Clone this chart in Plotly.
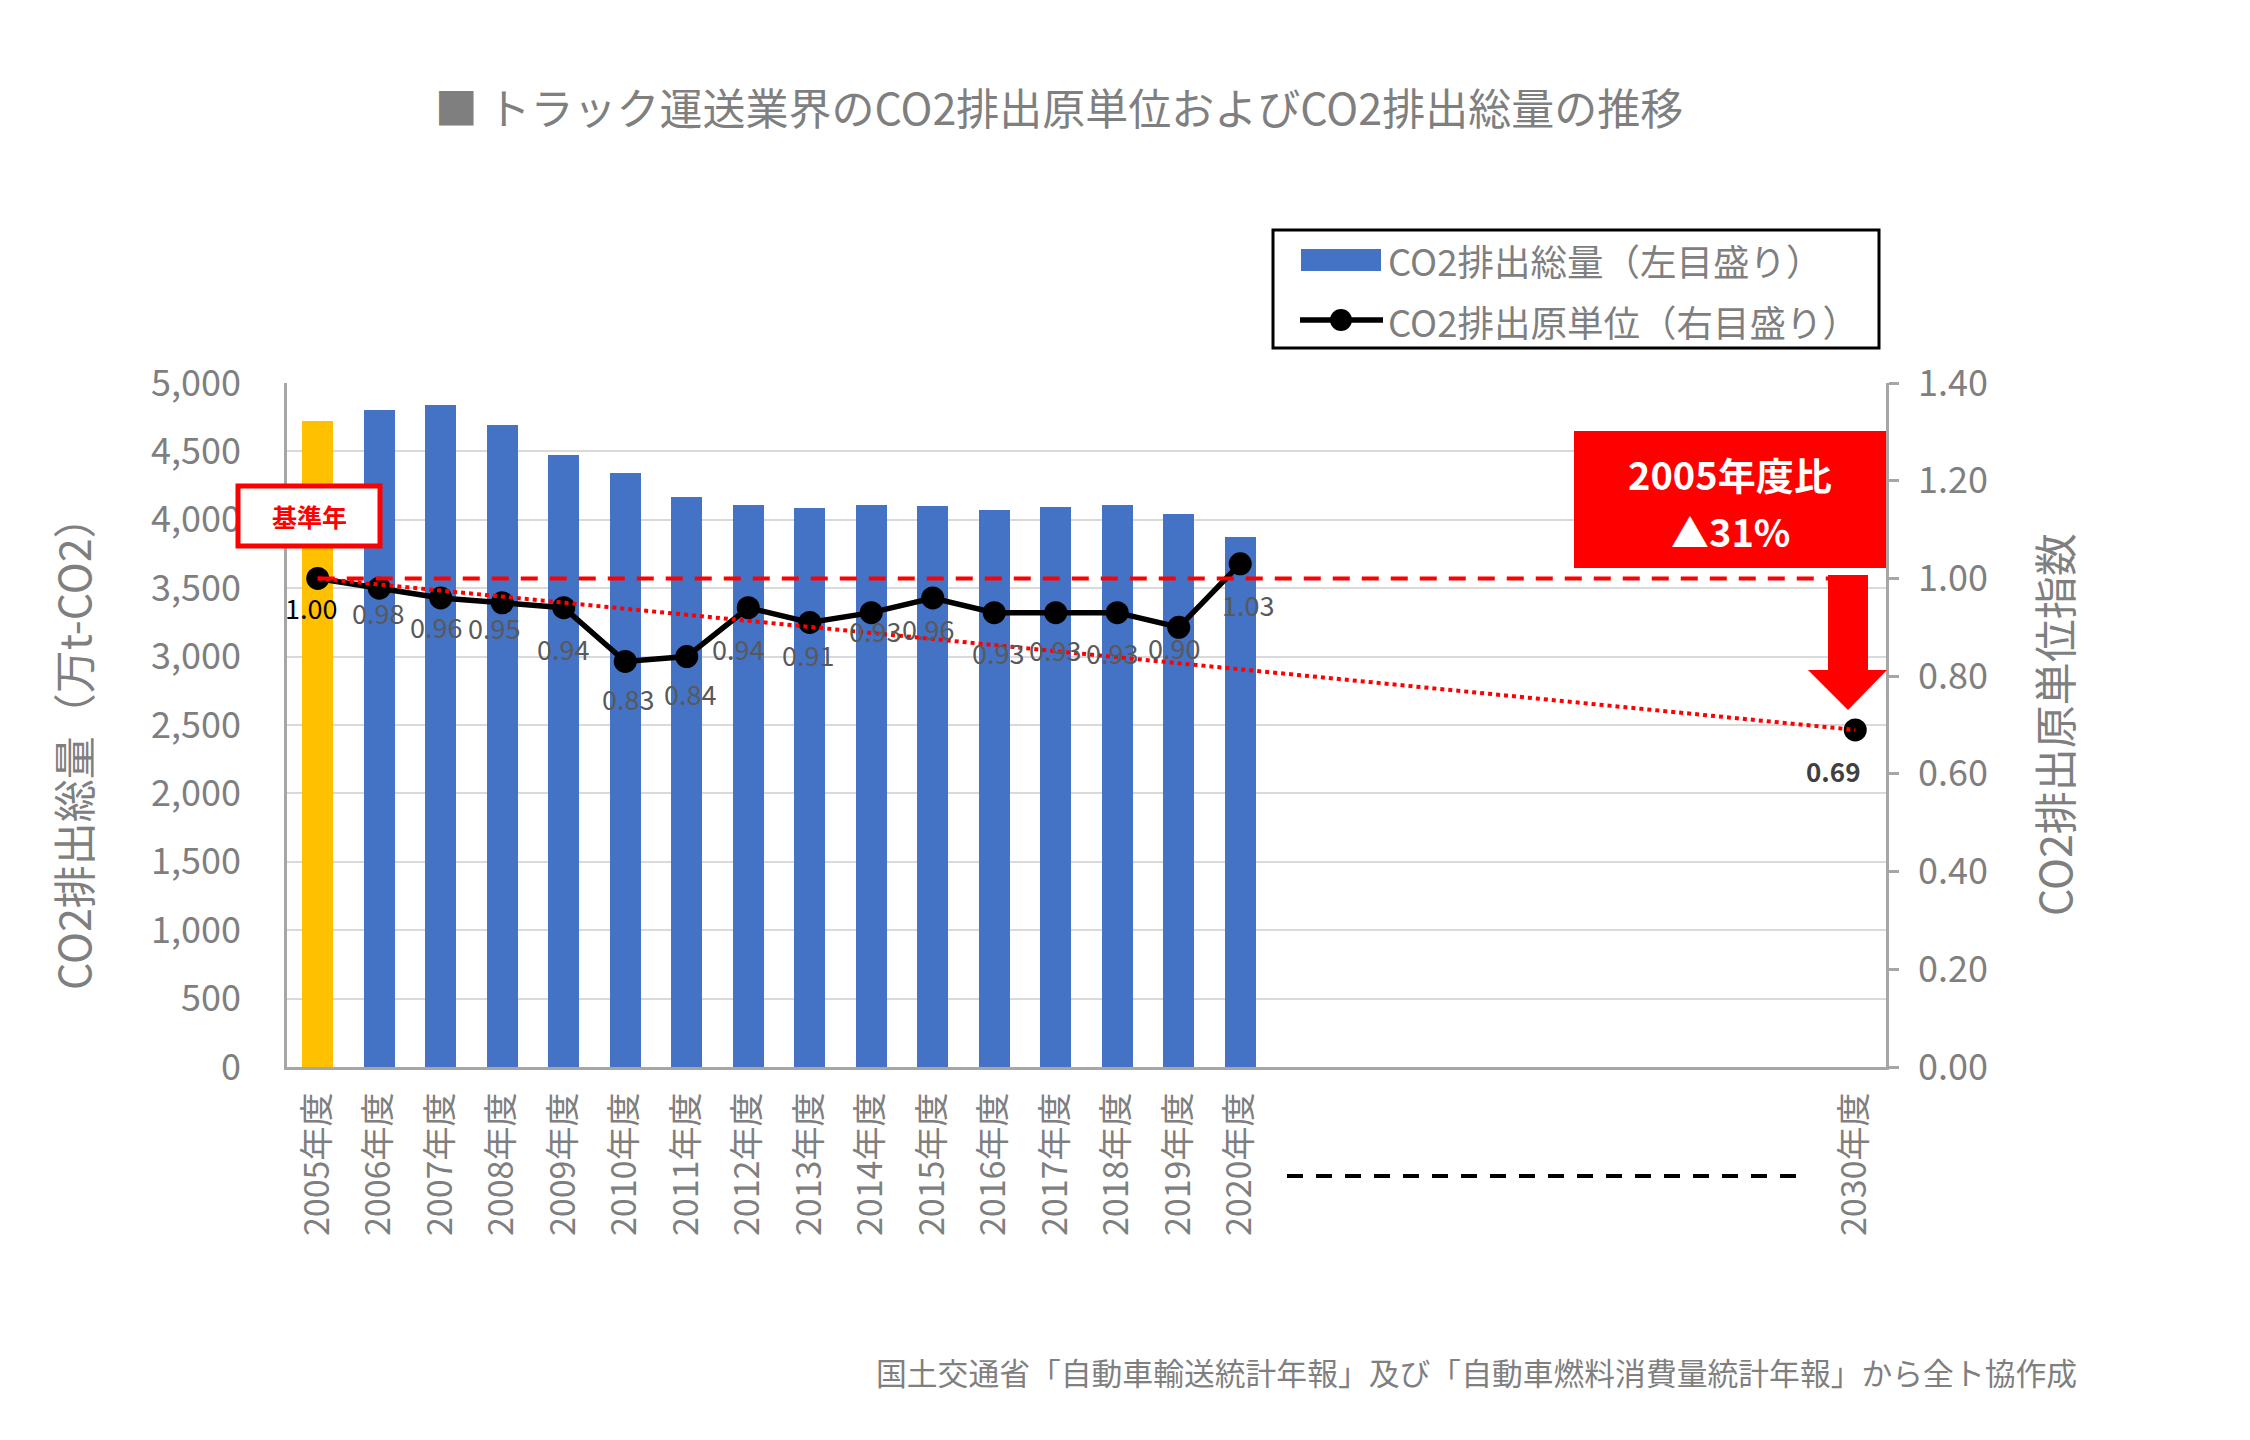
import plotly.graph_objects as go

# ---------------- data ----------------
years = [2005, 2006, 2007, 2008, 2009, 2010, 2011, 2012, 2013, 2014, 2015, 2016, 2017, 2018, 2019, 2020]
tick_years = [2005, 2006, 2007, 2008, 2009, 2010, 2011, 2012, 2013, 2014, 2015, 2016, 2017, 2018, 2019, 2020, 2030]
tick_labels = ["2005年度", "2006年度", "2007年度", "2008年度", "2009年度", "2010年度", "2011年度", "2012年度",
               "2013年度", "2014年度", "2015年度", "2016年度", "2017年度", "2018年度", "2019年度", "2020年度", "2030年度"]
emissions = [4720, 4800, 4840, 4690, 4475, 4340, 4165, 4105, 4085, 4105, 4100, 4070, 4090, 4110, 4045, 3875]
intensity = [1.00, 0.98, 0.96, 0.95, 0.94, 0.83, 0.84, 0.94, 0.91, 0.93, 0.96, 0.93, 0.93, 0.93, 0.90, 1.03]
target_year = [2030]
target_intensity = [0.69]
base_x = [2005, 2030]
base_y = [1.00, 1.00]
trend_x = [2005, 2030]
trend_y = [1.00, 0.69]

# ---------------- geometry helpers (pixel -> paper) ----------------
W, H = 2250, 1440
L, R, T, B = 287, 364, 383, 373
PW, PH = W - L - R, H - T - B


def px(x):
    return (x - L) / PW


def py(y):
    return (H - B - y) / PH


GRAY = "#7F7F7F"
AXIS = "#A6A6A6"
FONT = "Noto Sans CJK JP"

bar_colors = ["#FFC000"] + ["#4472C4"] * (len(years) - 1)

fig = go.Figure()

fig.add_trace(go.Bar(x=years, y=emissions, width=0.5, marker=dict(color=bar_colors, line=dict(width=0)),
                     name="CO2排出総量（左目盛り）", yaxis="y", showlegend=False))

fig.add_trace(go.Scatter(x=years, y=intensity, mode="lines+markers", yaxis="y2",
                         line=dict(color="black", width=5.5), marker=dict(color="black", size=23),
                         name="CO2排出原単位（右目盛り）", showlegend=False))

fig.add_trace(go.Scatter(x=target_year, y=target_intensity, mode="markers", yaxis="y2",
                         marker=dict(color="black", size=23), showlegend=False))

fig.add_trace(go.Scatter(x=base_x, y=base_y, mode="lines", yaxis="y2",
                         line=dict(color="#FF0000", width=4, dash="17px,12px"), showlegend=False))

fig.add_trace(go.Scatter(x=trend_x, y=trend_y, mode="lines", yaxis="y2",
                         line=dict(color="#FF0000", width=4, dash="dot"), showlegend=False))


def note(x, y, text, size, color, xanchor="center", angle=0):
    return dict(x=px(x), y=py(y), xref="paper", yref="paper", text=text, showarrow=False,
                xanchor=xanchor, yanchor="middle", textangle=angle,
                font=dict(family=FONT, size=size, color=color))


# ---------------- data labels ----------------
label_dx = [-7, -1, -5, -8, -1, 3, 3, -10, -2, 4, -5, 4, -1, -5, -5, 8]
label_dy = [29, 24, 29, 25, 41, 37, 37, 41, 32, 18, 31, 40, 37, 40, 20, 41]
annotations = []
for i, (yr, v) in enumerate(zip(years, intensity)):
    annotations.append(dict(x=yr, y=v, xref="x", yref="y2", text=f"{v:.2f}", showarrow=False,
                            xanchor="center", yanchor="middle",
                            xshift=label_dx[i], yshift=-label_dy[i],
                            font=dict(family=FONT, size=27, color="black" if i == 0 else "#595959")))
annotations.append(dict(x=target_year[0], y=target_intensity[0], xref="x", yref="y2",
                        text=f"<b>{target_intensity[0]:.2f}</b>", showarrow=False, xshift=-22, yshift=-41,
                        xanchor="center", yanchor="middle",
                        font=dict(family=FONT, size=26, color="#404040")))

# axis titles
annotations.append(note(72, 743, "CO2排出総量（万t-CO2）", 43, GRAY, angle=-90))
annotations.append(note(2053, 725, "CO2排出原単位指数", 43, GRAY, angle=-90))

# legend texts
annotations.append(note(1386, 260, "CO2排出総量（左目盛り）", 36.5, GRAY, xanchor="left"))
annotations.append(note(1386, 321, "CO2排出原単位（右目盛り）", 36.5, GRAY, xanchor="left"))

# callouts
annotations.append(note(1730, 473, "<b>2005年度比</b>", 38, "white"))
annotations.append(note(1730, 530, "<b>▲31%</b>", 38, "white"))
annotations.append(note(309, 516, "<b>基準年</b>", 25, "#FF0000"))

# footer
annotations.append(note(2079, 1371, "国土交通省「自動車輸送統計年報」及び「自動車燃料消費量統計年報」から全ト協作成",
                        30.8, GRAY, xanchor="right"))

# ---------------- shapes ----------------
shapes = []
# legend box
shapes.append(dict(type="rect", xref="paper", yref="paper", x0=px(1273), x1=px(1879), y0=py(348), y1=py(230),
                   line=dict(color="black", width=3), fillcolor="white"))
shapes.append(dict(type="rect", xref="paper", yref="paper", x0=px(1301), x1=px(1381), y0=py(271), y1=py(249),
                   line=dict(width=0), fillcolor="#4472C4"))
shapes.append(dict(type="line", xref="paper", yref="paper", x0=px(1300), x1=px(1383), y0=py(320), y1=py(320),
                   line=dict(color="black", width=5.5)))
shapes.append(dict(type="circle", xref="paper", yref="paper", x0=px(1330), x1=px(1352), y0=py(331), y1=py(309),
                   line=dict(width=0), fillcolor="black"))
# 基準年 box
shapes.append(dict(type="rect", xref="paper", yref="paper", x0=px(238), x1=px(380), y0=py(546), y1=py(486),
                   line=dict(color="#FF0000", width=5), fillcolor="white"))
# red callout
shapes.append(dict(type="rect", xref="paper", yref="paper", x0=px(1574), x1=px(1886), y0=py(568), y1=py(431),
                   line=dict(width=0), fillcolor="#FF0000"))
# arrow
arrow_pts = [(1828, 575), (1868, 575), (1868, 670), (1887, 670), (1848, 710), (1808, 670), (1828, 670)]
path = "M " + " L ".join(f"{px(a):.5f},{py(b):.5f}" for a, b in arrow_pts) + " Z"
shapes.append(dict(type="path", xref="paper", yref="paper", path=path, line=dict(width=0), fillcolor="#FF0000"))
# dashed separator on x axis
shapes.append(dict(type="line", xref="paper", yref="paper", x0=px(1287), x1=px(1801), y0=py(1176), y1=py(1176),
                   line=dict(color="black", width=4, dash="16px,13px")))

fig.update_layout(
    width=W, height=H,
    margin=dict(l=L, r=R, t=T, b=B, pad=0),
    paper_bgcolor="white", plot_bgcolor="white",
    font=dict(family=FONT, color=GRAY),
    title=dict(text="■ トラック運送業界のCO2排出原単位およびCO2排出総量の推移",
               x=1059 / W, xanchor="center", y=1 - 110 / H, yanchor="middle",
               font=dict(family=FONT, size=43, color=GRAY)),
    showlegend=False,
    bargap=0,
    xaxis=dict(range=[2004.5, 2030.5], tickmode="array", tickvals=tick_years, ticktext=tick_labels,
               tickangle=-90, showgrid=False, zeroline=False, showline=True, linecolor=AXIS, linewidth=3,
               ticks="outside", ticklen=9, tickcolor="rgba(0,0,0,0)",
               tickfont=dict(family=FONT, size=34, color=GRAY), automargin=False),
    yaxis=dict(range=[0, 5000], dtick=500, tickformat=",", showgrid=True, gridcolor="#D9D9D9", gridwidth=2,
               zeroline=False, showline=True, linecolor=AXIS, linewidth=2.5,
               ticks="outside", ticklen=36, tickcolor="rgba(0,0,0,0)",
               tickfont=dict(family=FONT, size=36, color=GRAY), automargin=False),
    yaxis2=dict(range=[0, 1.4], dtick=0.2, tickformat=".2f", overlaying="y", side="right", showgrid=False,
                zeroline=False, showline=True, linecolor=AXIS, linewidth=2.5,
                ticks="outside", ticklen=10, tickwidth=2.5, tickcolor=AXIS, ticklabelstandoff=12,
                tickfont=dict(family=FONT, size=36, color=GRAY), automargin=False),
    annotations=annotations,
    shapes=shapes,
)

fig.write_html("out.html")
